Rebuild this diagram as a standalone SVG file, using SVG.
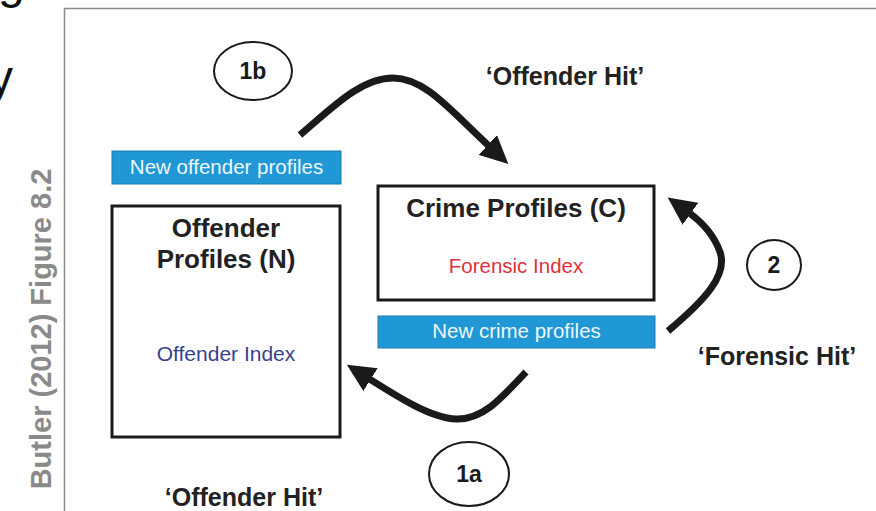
<svg xmlns="http://www.w3.org/2000/svg" width="876" height="511" viewBox="0 0 876 511">
  <defs>
    <style>
      text { font-family: "Liberation Sans", Arial, sans-serif; }
      .box { fill: #ffffff; stroke: #1a1a1a; stroke-width: 3; }
      .tag { fill: #1f98d5; stroke: #1a7fb3; stroke-width: 1; }
      .tagtxt { fill: #eef7fc; font-size: 20.5px; text-anchor: middle; }
      .title { fill: #222222; font-size: 26px; font-weight: bold; text-anchor: middle; }
      .hit { fill: #222222; font-size: 25px; font-weight: bold; text-anchor: middle; }
      .oval { fill: #ffffff; stroke: #1a1a1a; stroke-width: 2; }
      .step { fill: #1a1a1a; font-size: 23px; font-weight: bold; text-anchor: middle; }
      .arrow { fill: none; stroke: #1a1a1a; stroke-width: 7; stroke-linecap: butt; marker-end: url(#head); }
    </style>
    <marker id="head" markerUnits="userSpaceOnUse" markerWidth="29" markerHeight="27" viewBox="0 0 29 27" refX="3" refY="13.5" orient="auto">
      <path d="M0,0 L28,13.5 L0,27 z" fill="#1a1a1a"/>
    </marker>
  </defs>

  <rect width="876" height="511" fill="#ffffff"/>

  <!-- cut-off slide text -->
  <text x="-2" y="-2" font-size="48" fill="#111111">g</text>
  <text x="-11" y="94" font-size="48" fill="#111111">y</text>

  <!-- frame -->
  <rect x="64.5" y="8.5" width="900" height="600" fill="none" stroke="#8c8c8c" stroke-width="1.5"/>

  <!-- side caption -->
  <text transform="translate(51,329) rotate(-90)" font-size="29" font-weight="bold" fill="#8a8a8a" text-anchor="middle">Butler (2012) Figure 8.2</text>

  <g id="connectors">
    <path class="arrow" d="M 300 135 C 330 110, 360 78, 393 78 C 425 78, 450 110, 490 147"/>
    <path class="arrow" d="M 668 331 C 705 300, 728 275, 720 252 C 714 235, 702 222, 688 212"/>
    <path class="arrow" d="M 526 372 C 500 400, 482 420, 456 419 C 430 418, 395 395, 368 378"/>
  </g>

  <g id="offender-profiles">
    <rect class="box" x="112" y="206" width="228" height="231"/>
    <text class="title" x="226" y="237">Offender</text>
    <text class="title" x="226" y="268">Profiles (N)</text>
    <text x="226" y="361" font-size="21" fill="#3b3f8c" text-anchor="middle">Offender Index</text>
  </g>

  <g id="crime-profiles">
    <rect class="box" x="378" y="186" width="276" height="114"/>
    <text class="title" x="516" y="217">Crime Profiles (C)</text>
    <text x="516" y="273" font-size="20.5" fill="#e0313b" text-anchor="middle">Forensic Index</text>
  </g>

  <g id="new-offender-profiles">
    <rect class="tag" x="112" y="151" width="229" height="33"/>
    <text class="tagtxt" x="226.5" y="174">New offender profiles</text>
  </g>

  <g id="new-crime-profiles">
    <rect class="tag" x="378" y="316" width="277" height="32"/>
    <text class="tagtxt" x="516.5" y="338">New crime profiles</text>
  </g>

  <g id="step-1b">
    <ellipse class="oval" cx="253" cy="71" rx="39" ry="29"/>
    <text class="step" x="253" y="79">1b</text>
  </g>

  <g id="step-2">
    <ellipse class="oval" cx="774" cy="265" rx="27" ry="25"/>
    <text class="step" x="774" y="273">2</text>
  </g>

  <g id="step-1a">
    <ellipse class="oval" cx="469" cy="474" rx="40" ry="32"/>
    <text class="step" x="469" y="482">1a</text>
  </g>

  <g id="labels">
    <text class="hit" x="565" y="85">‘Offender Hit’</text>
    <text class="hit" x="777" y="365">‘Forensic Hit’</text>
    <text class="hit" x="244" y="506">‘Offender Hit’</text>
  </g>
</svg>
